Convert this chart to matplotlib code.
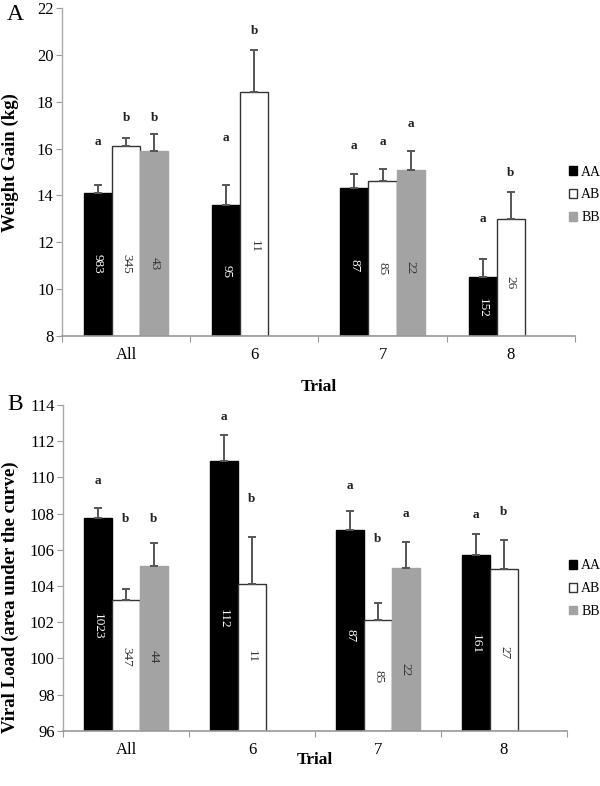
import numpy as np
import matplotlib.pyplot as plt
from matplotlib.patches import Patch

plt.rcParams['font.family'] = ['Liberation Serif', 'DejaVu Serif']

trials = ['All', '6', '7', '8']
genotypes = ['AA', 'AB', 'BB']

# Panel A: weight gain (kg), NaN where a genotype is absent
wg_mean = {'AA': [14.1, 13.6, 14.3, 10.5],
           'AB': [16.1, 18.4, 14.6, 13.0],
           'BB': [15.9, np.nan, 15.1, np.nan]}
wg_err = {'AA': [0.36, 0.85, 0.6, 0.8],
          'AB': [0.37, 1.8, 0.52, 1.13],
          'BB': [0.72, np.nan, 0.8, np.nan]}
wg_n = {'AA': ['983', '95', '87', '152'],
        'AB': ['345', '11', '85', '26'],
        'BB': ['43', '', '22', '']}
wg_n_y = {'AA': [11.1, 10.75, 11.0, 9.2],
          'AB': [11.1, 11.8, 10.9, 10.3],
          'BB': [11.1, np.nan, 10.9, np.nan]}
wg_letter = {'AA': ['a', 'a', 'a', 'a'],
             'AB': ['b', 'b', 'a', 'b'],
             'BB': ['b', '', 'a', '']}
wg_letter_y = {'AA': [16.3, 16.45, 16.1, 13.0],
               'AB': [17.3, 21.0, 16.3, 14.95],
               'BB': [17.3, np.nan, 17.05, np.nan]}

# Panel B: viral load (area under the curve)
vl_mean = {'AA': [107.75, 110.9, 107.1, 105.7],
           'AB': [103.2, 104.1, 102.1, 104.95],
           'BB': [105.1, np.nan, 105.0, np.nan]}
vl_err = {'AA': [0.55, 1.45, 1.05, 1.15],
          'AB': [0.65, 2.6, 0.95, 1.6],
          'BB': [1.3, np.nan, 1.45, np.nan]}
vl_n = {'AA': ['1023', '112', '87', '161'],
        'AB': ['347', '11', '85', '27'],
        'BB': ['44', '', '22', '']}
vl_n_y = {'AA': [101.75, 102.2, 101.25, 100.8],
          'AB': [100.1, 100.1, 99.0, 100.3],
          'BB': [100.1, np.nan, 99.4, np.nan]}
vl_letter = {'AA': ['a', 'a', 'a', 'a'],
             'AB': ['b', 'b', 'b', 'b'],
             'BB': ['b', '', 'a', '']}
vl_letter_y = {'AA': [109.8, 113.35, 109.5, 107.9],
               'AB': [107.7, 108.8, 106.6, 108.1],
               'BB': [107.7, np.nan, 108.0, np.nan]}

face = {'AA': 'black', 'AB': 'white', 'BB': '#a3a3a3'}
edge = {'AA': 'black', 'AB': '#333333', 'BB': '#a3a3a3'}
ncol = {'AA': 'white', 'AB': '#333333', 'BB': '#333333'}

width = 0.22
offsets = {'AA': -width, 'AB': 0.0, 'BB': width}


def draw_panel(ax, mean, err, n, n_y, letter, letter_y, ylim, yticks, ylabel,
               ylab_pos, xlab_y):
    x = np.arange(len(trials))
    for g in genotypes:
        m = np.array(mean[g], dtype=float)
        e = np.array(err[g], dtype=float)
        xs = x + offsets[g]
        base = ylim[0]
        ax.bar(xs, m - base, width, bottom=base, color=face[g], edgecolor=edge[g],
               linewidth=1.0, zorder=2)
        ok = ~np.isnan(m)
        ax.errorbar(xs[ok], m[ok], yerr=[np.zeros(ok.sum()), e[ok]], fmt='none',
                    ecolor='#555555', elinewidth=1.4, capsize=3, capthick=1.4, zorder=3)
        for i in range(len(trials)):
            if not ok[i]:
                continue
            ax.text(xs[i], n_y[g][i], n[g][i], rotation=270, ha='center', va='center',
                    fontsize=9.5, color=ncol[g], zorder=4)
            ax.text(xs[i], letter_y[g][i], letter[g][i], ha='center', va='center',
                    fontsize=9.5, fontweight='bold', color='#222222')
    ax.set_xlim(-0.5, len(trials) - 0.5)
    ax.set_ylim(*ylim)
    ax.set_yticks(yticks)
    ax.set_yticklabels([str(t) for t in yticks], fontsize=12)
    ax.set_xticks(np.arange(-0.5, len(trials)), minor=False)
    ax.set_xticklabels([])
    ax.set_xticks(x, minor=True)
    ax.set_xticklabels(trials, minor=True, fontsize=12)
    ax.tick_params(axis='x', which='minor', length=0, pad=8)
    ax.tick_params(axis='x', which='major', length=4, color='#999999', direction='out')
    ax.tick_params(axis='y', length=4, color='#999999', direction='out', pad=2)
    for s in ['top', 'right']:
        ax.spines[s].set_visible(False)
    ax.spines['left'].set_color('#aaaaaa')
    ax.spines['bottom'].set_color('#999999')
    ax.spines['left'].set_linewidth(1.0)
    ax.spines['bottom'].set_linewidth(1.2)
    ax.set_ylabel(ylabel, fontsize=13.5, fontweight='bold')
    ax.yaxis.set_label_coords(*ylab_pos)
    ax.set_xlabel('Trial', fontsize=12.5, fontweight='bold')
    ax.xaxis.set_label_coords(0.5, xlab_y)


fig = plt.figure(figsize=(6.0, 7.86), dpi=100)
axA = fig.add_axes([0.1033, 0.5725, 0.855, 0.4173])
axB = fig.add_axes([0.105, 0.0703, 0.84, 0.4144])

draw_panel(axA, wg_mean, wg_err, wg_n, wg_n_y, wg_letter, wg_letter_y,
           (8, 22), list(range(8, 23, 2)), 'Weight Gain (kg)', (-0.084, 0.53), -0.13)
draw_panel(axB, vl_mean, vl_err, vl_n, vl_n_y, vl_letter, vl_letter_y,
           (96, 114), list(range(96, 115, 2)), 'Viral Load (area under the curve)',
           (-0.087, 0.41), -0.064)

handles = [Patch(facecolor=face[g], edgecolor=edge[g], label=g) for g in genotypes]
for ax, y in [(axA, 0.752), (axB, 0.251)]:
    fig.legend(handles=handles, loc='center left', bbox_to_anchor=(0.948, y),
               frameon=False, fontsize=10, handlelength=0.6, handleheight=0.6,
               handletextpad=0.3, labelspacing=0.7, borderaxespad=0, borderpad=0)

fig.text(0.012, 0.982, 'A', fontsize=17, va='center')
fig.text(0.012, 0.486, 'B', fontsize=17, va='center')

fig.savefig('out.png', dpi=100)
